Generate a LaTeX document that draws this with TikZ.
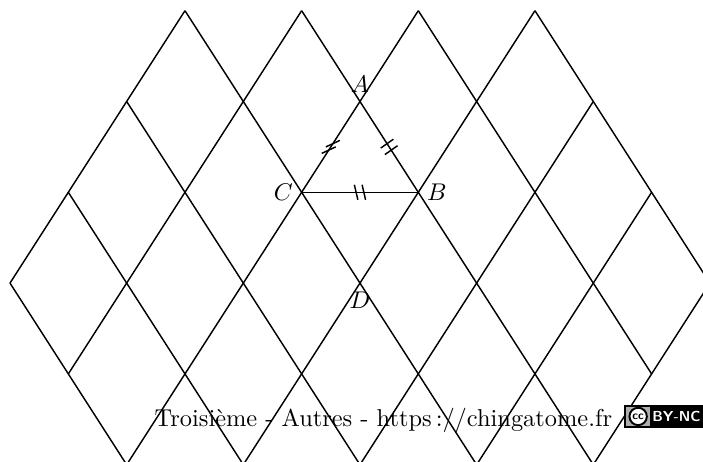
\documentclass[tikz,border=0pt]{standalone}
\usepackage{tikz}
\usetikzlibrary{
  calc,
  positioning
}
\definecolor{ccgris}{HTML}{ABB1AA}

% deux petits traits sur un segment : milieu, angle du segment, angle des traits
\newcommand{\doublebarre}[3]{%
  \draw ([shift={(#2:1.6pt)}]#1) ++(#3:3.2pt) -- ++(#3+180:6.4pt);
  \draw ([shift={(#2+180:1.6pt)}]#1) ++(#3:3.2pt) -- ++(#3+180:6.4pt);
}

\begin{document}
\begin{tikzpicture}[
    x=0.8487cm,
    y=1.3212cm,
    line width=0.6pt
    ]

    \useasboundingbox (-6.1714,-1.970) rectangle (5.881,3.1178);
    \clip (-6.1714,-1.970) rectangle (5.881,3.1178);

    % Réseau
    \foreach \a/\b/\c/\d in {-6/0/-3/3, -5/-1/-1/3, -4/-2/1/3, -3/-3/3/3,
                             -2/-4/4/2, -1/-5/5/1, 0/-6/6/0}
    \draw (\a,\b)--(\c,\d);

    \foreach \a/\b/\c/\d in {0/-6/-6/0, 1/-5/-5/1, 2/-4/-4/2, 3/-3/-3/3,
                             4/-2/-1/3, 5/-1/1/3, 6/0/3/3}
    \draw (\a,\b)--(\c,\d);

    % Points
    \coordinate (A) at (0,2);
    \coordinate (B) at (1,1);
    \coordinate (C) at (-1,1);
    \coordinate (D) at (0,0);

    \draw (C)--(B);

    \node[above] (lA) at (A) {$A$};
    \node[right] (lB) at (B) {$B$};
    \node[left] (lC) at (C) {$C$};
    \node[below] (lD) at (D) {$D$};

    % Codage
    \coordinate (mCB) at ($(C)!0.5!(B)$);
    \coordinate (mCA) at ($(C)!0.5!(A)$);
    \coordinate (mAB) at ($(A)!0.5!(B)$);
    \doublebarre{mCB}{0}{103}
    \doublebarre{mCA}{57.3}{25}
    \doublebarre{mAB}{-57.3}{35}

    % Pied de page
    \node[anchor=base west, inner sep=0pt, font=\fontsize{10.1}{12}\selectfont]
    (pied) at (-3.531,-1.574)
    {Troisième - Autres - https\,://chingatome.fr};

    \coordinate (logo) at (4.527,-1.599);
    \begin{scope}[shift={(logo)}, x=1pt, y=1pt]
      \fill[black] (0,0) rectangle (32.5,9.8);
      \fill[ccgris] (0.8,0.8) rectangle (10.9,9);
      \draw[line width=0.8pt, fill=white] (5.85,4.9) circle (3.6);
      \node[font=\sffamily\bfseries\fontsize{4.8}{4.8}\selectfont, inner sep=0pt]
      (cc) at (5.85,4.9) {cc};
      \node[font=\sffamily\bfseries\fontsize{6}{6}\selectfont, text=white, inner sep=0pt]
      (bync) at (21.7,4.9) {BY-NC};
    \end{scope}

\end{tikzpicture}
\end{document}
